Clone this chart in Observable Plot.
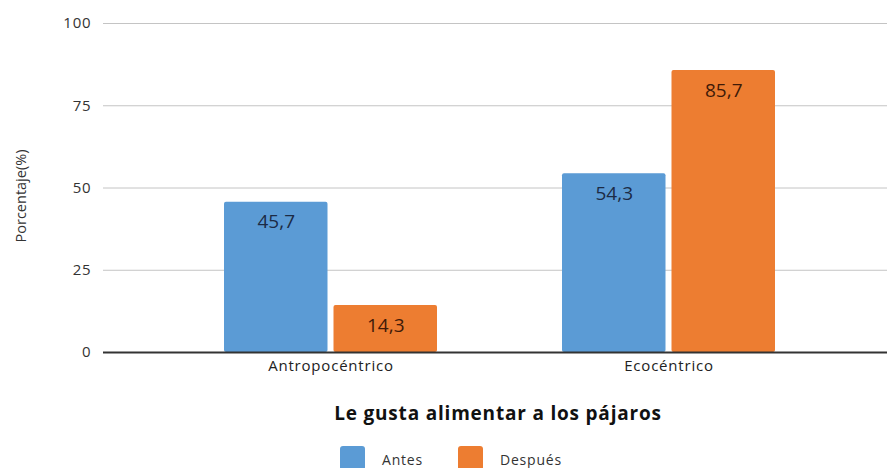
<!DOCTYPE html>
<html>
<head>
<meta charset="utf-8">
<script src="https://cdn.jsdelivr.net/npm/d3@7"></script>
<script src="https://cdn.jsdelivr.net/npm/@observablehq/plot@0.6"></script>
<style>
  body { margin: 0; background: #fff; font-family: "Open Sans", sans-serif; }
  #wrap { width: 887px; height: 468px; overflow: hidden; position: relative; }
  #title { position: absolute; left: 103px; width: 790px; top: 400px; text-align: center;
           font-weight: bold; font-size: 19px; letter-spacing: 0.8px; color: #111; }
  #legend { position: absolute; left: 340px; top: 446px; display: flex; justify-content: flex-start;
            font-size: 14px; letter-spacing: 0.8px; color: #333; }
  .item { display: flex; align-items: flex-start; margin-right: 35px; }
  .sw { width: 25px; height: 24px; border-radius: 3px; margin-right: 17px; }
  .lab { line-height: 16px; margin-top: 6px; }
</style>
</head>
<body>
<div id="wrap">
  <div id="chart"></div>
  <div id="title"></div>
  <div id="legend"></div>
</div>
<script>
const categories = ["Antropocéntrico", "Ecocéntrico"];
const series = ["Antes", "Después"];
const antes = [45.7, 54.3];
const despues = [14.3, 85.7];
const yTicks = [0, 25, 50, 75, 100];
const colors = ["#5b9bd5", "#ed7d31"];
const labelColors = ["#1c2b45", "#3f1a08"];
const titleText = "Le gusta alimentar a los pájaros";
const yLabel = "Porcentaje(%)";

const rows = [];
categories.forEach((c, i) => {
  rows.push({cat: c, serie: series[0], value: antes[i]});
  rows.push({cat: c, serie: series[1], value: despues[i]});
});
const fmt = d => d.value.toFixed(1).replace(".", ",");
const half = 109.5; // inset so each bar takes half the band, with a small gap

const chart = Plot.plot({
  width: 887,
  height: 385,
  marginLeft: 103,
  marginRight: 0,
  marginTop: 23,
  marginBottom: 33,
  style: {fontFamily: "Open Sans, sans-serif", background: "#fff"},
  x: {domain: categories, paddingInner: 0.369, paddingOuter: 0.341, align: 0.52, label: null},
  y: {domain: [0, 100], label: null},
  color: {domain: series, range: colors},
  marks: [
    Plot.gridY(yTicks, {stroke: "#c4c4c4", strokeOpacity: 1, strokeWidth: 1}),
    Plot.barY(rows.filter(d => d.serie === series[0]), {x: "cat", y: "value", fill: "serie", insetRight: half, rx: 2}),
    Plot.barY(rows.filter(d => d.serie === series[1]), {x: "cat", y: "value", fill: "serie", insetLeft: half, rx: 2}),
    Plot.text(rows.filter(d => d.serie === series[0]), {x: "cat", y: "value", text: fmt, dx: -54.75, dy: 20, fontSize: 19, fill: labelColors[0], style: "letter-spacing:0.6px"}),
    Plot.text(rows.filter(d => d.serie === series[1]), {x: "cat", y: "value", text: fmt, dx: 54.75, dy: 20, fontSize: 19, fill: labelColors[1], style: "letter-spacing:0.6px"}),
    Plot.ruleY([0], {stroke: "#333", strokeWidth: 2}),
    Plot.axisY({ticks: yTicks, tickSize: 0, tickPadding: 12, fontSize: 15, label: null, color: "#333"}),
    Plot.axisX({tickSize: 0, tickPadding: 8, fontSize: 15, label: null, color: "#222"}),
    Plot.text([yLabel], {frameAnchor: "left", textAnchor: "middle", dx: -82, dy: 8, rotate: -90, fontSize: 14.5, fill: "#333"})
  ]
});
chart.querySelectorAll('[aria-label="x-axis tick label"] text, [aria-label="y-axis tick label"] text').forEach(t => t.style.letterSpacing = "0.8px");
document.getElementById("chart").appendChild(chart);
document.getElementById("title").textContent = titleText;
const leg = document.getElementById("legend");
series.forEach((s, i) => {
  const it = document.createElement("div");
  it.className = "item";
  const sw = document.createElement("div");
  sw.className = "sw";
  sw.style.background = colors[i];
  const lab = document.createElement("div");
  lab.className = "lab";
  lab.textContent = s;
  it.appendChild(sw); it.appendChild(lab);
  leg.appendChild(it);
});
</script>
</body>
</html>
